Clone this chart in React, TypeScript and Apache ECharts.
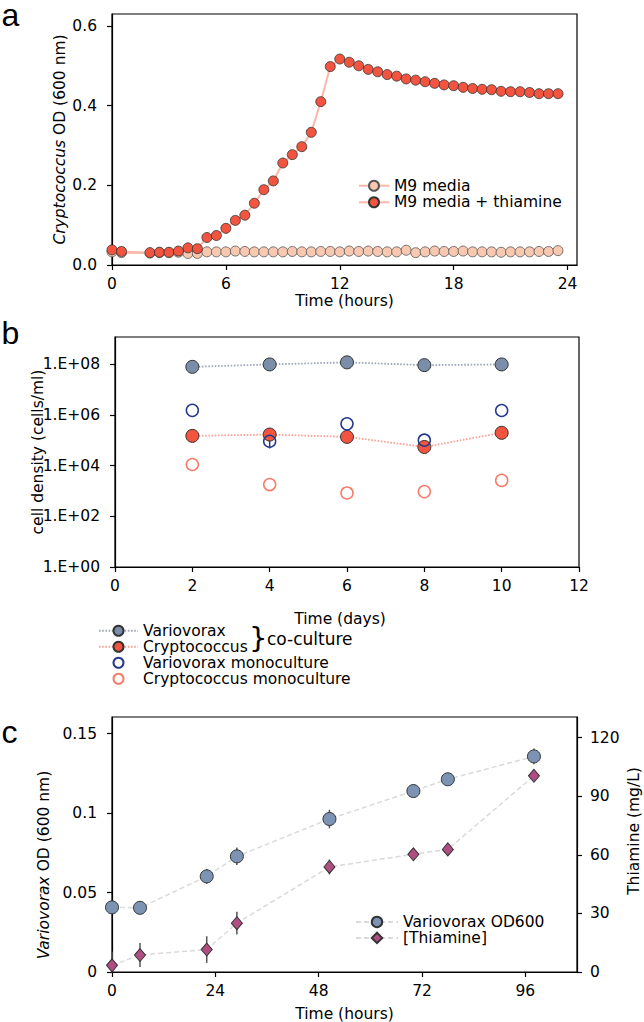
import React, { useEffect, useRef } from "react";
import * as echarts from "echarts";

// ---------- Panel a ----------
const hoursA = [0, 0.5, 2, 2.5, 3, 3.5, 4, 4.5, 5, 5.5, 6, 6.5, 7, 7.5, 8, 8.5, 9, 9.5, 10, 10.5, 11, 11.5,
  12, 12.5, 13, 13.5, 14, 14.5, 15, 15.5, 16, 16.5, 17, 17.5, 18, 18.5, 19, 19.5, 20, 20.5, 21, 21.5, 22, 22.5, 23, 23.5];
const m9Media = [0.033, 0.031, 0.030, 0.031, 0.031, 0.032, 0.029, 0.029, 0.033, 0.033, 0.033, 0.035, 0.034, 0.033,
  0.033, 0.033, 0.033, 0.034, 0.033, 0.033, 0.034, 0.034,
  0.033, 0.035, 0.034, 0.035, 0.034, 0.033, 0.033, 0.037, 0.031, 0.033, 0.035, 0.034, 0.034, 0.035, 0.033, 0.033,
  0.033, 0.032, 0.033, 0.033, 0.033, 0.034, 0.034, 0.036];
const m9Thiamine = [0.038, 0.034, 0.031, 0.032, 0.032, 0.035, 0.043, 0.041, 0.069, 0.074, 0.092, 0.112, 0.125, 0.155,
  0.189, 0.211, 0.256, 0.277, 0.297, 0.333, 0.410, 0.498,
  0.517, 0.509, 0.500, 0.491, 0.485, 0.478, 0.474, 0.467, 0.464, 0.460, 0.456, 0.452, 0.450, 0.446, 0.443, 0.441,
  0.440, 0.436, 0.435, 0.435, 0.433, 0.430, 0.430, 0.430];
const ticksAx = [0, 6, 12, 18, 24];
const ticksAy = [0, 0.2, 0.4, 0.6];

// ---------- Panel b ----------
const daysB = [2, 4, 6, 8, 10];
const varioCo = [7.8e7, 9.7e7, 1.17e8, 9.1e7, 9.7e7];
const cryptoCo = [1.48e5, 1.67e5, 1.35e5, 5.4e4, 1.95e5];
const varioMono = [1.5e6, 9.1e4, 4.4e5, 1.0e5, 1.48e6];
const varioMonoLow = [null, 4.7e4, null, null, null];
const varioMonoHigh = [null, 1.6e5, null, null, null];
const cryptoMono = [1.1e4, 1.78e3, 8.3e2, 9.4e2, 2.6e3];
const ticksBx = [0, 2, 4, 6, 8, 10, 12];
const ticksBy = [1, 1e2, 1e4, 1e6, 1e8];

// ---------- Panel c ----------
const hoursC = [0, 6.5, 22, 29, 50.5, 70, 78, 98];
const varioOD = [0.0407, 0.0404, 0.0602, 0.0728, 0.0963, 0.1139, 0.1213, 0.1357];
const varioODErr = [0.002, 0.002, 0.0047, 0.0055, 0.0058, 0.003, 0.003, 0.005];
const thiamine = [3.4, 8.7, 11.5, 25.0, 53.8, 60.3, 62.8, 100.5];
const thiamineErr = [7, 6.1, 6.8, 5.8, 3.8, 1.5, 1.5, 2];
const ticksCx = [0, 24, 48, 72, 96];
const ticksCy = [0, 0.05, 0.1, 0.15];
const ticksCy2 = [0, 30, 60, 90, 120];

const FONT = "'DejaVu Sans', sans-serif";
const FS = 15.5;
const BLACK = "#000";
const LETTER_FONT = "'Liberation Sans', Arial, sans-serif";

const gridBase = {
  show: true,
  borderColor: BLACK,
  borderWidth: 1.2,
  backgroundColor: "transparent",
  containLabel: false,
  outerBoundsMode: "none",
};

function axis(
  gridIndex: number,
  type: string,
  min: number,
  max: number,
  ticks: number[],
  name: string,
  nameGap: number,
  extra: any = {}
) {
  return {
    gridIndex,
    type,
    min,
    max,
    splitLine: { show: false },
    axisLine: { show: true, onZero: false, lineStyle: { color: BLACK, width: 1.2 } },
    axisTick: { show: true, inside: false, length: 5, customValues: ticks, lineStyle: { color: BLACK, width: 1.2 } },
    axisLabel: {
      customValues: ticks,
      margin: 11,
      color: BLACK,
      fontSize: FS,
      fontFamily: FONT,
      ...(extra.axisLabel || {}),
    },
    name,
    nameLocation: "middle",
    nameGap,
    nameMoveOverlap: false,
    nameTextStyle: {
      color: BLACK,
      fontSize: FS,
      fontFamily: FONT,
      rich: { i: { fontStyle: "italic", fontSize: FS, fontFamily: FONT, color: BLACK } },
      ...(extra.nameTextStyle || {}),
    },
    ...(extra.rest || {}),
  };
}

function errorBars(xIdx: number, yIdx: number, data: any[], color: string) {
  return {
    type: "custom",
    xAxisIndex: xIdx,
    yAxisIndex: yIdx,
    silent: true,
    clip: true,
    z: 1,
    encode: { x: 0, y: [1, 2] },
    data,
    renderItem: (_params: any, api: any) => {
      const p1 = api.coord([api.value(0), api.value(1)]);
      const p2 = api.coord([api.value(0), api.value(2)]);
      return {
        type: "line",
        shape: { x1: p1[0], y1: p1[1], x2: p2[0], y2: p2[1] },
        style: { stroke: color, lineWidth: 1.5 },
      };
    },
  };
}

const legendText = (lh: number) => ({ color: BLACK, fontSize: FS, fontFamily: FONT, lineHeight: lh });

const letter = (t: string, y: number) => ({
  type: "text",
  x: 1.5,
  y,
  style: { text: t, fontSize: 32, lineHeight: 24, fontFamily: LETTER_FONT, fill: BLACK, verticalAlign: "middle" },
});

function buildOption() {
  return {
    animation: false,
    backgroundColor: "#fff",
    grid: [
      { ...gridBase, left: 112, top: 14, width: 465, height: 251 },
      { ...gridBase, left: 115, top: 337, width: 464, height: 230 },
      { ...gridBase, left: 112, top: 717, width: 465, height: 255 },
    ],
    xAxis: [
      axis(0, "value", 0, 24.5, ticksAx, "Time (hours)", 28),
      axis(1, "value", 0, 12, ticksBx, "Time (days)", 44, {
        nameTextStyle: { padding: [0, 14, 0, 0] },
      }),
      axis(2, "value", 0, 108, ticksCx, "Time (hours)", 34),
    ],
    yAxis: [
      axis(0, "value", 0, 0.63, ticksAy, "{i|Cryptococcus} OD (600 nm)", 44, {
        axisLabel: { margin: 15, formatter: (v: number) => v.toFixed(1) },
        rest: { nameRotate: 90 },
      }),
      axis(1, "log", 1, 1.17e9, ticksBy, "cell density (cells/ml)", 69, {
        axisLabel: {
          margin: 15,
          formatter: (v: number) => {
            const e = Math.round(Math.log10(v));
            return "1.E+" + (e < 10 ? "0" + e : String(e));
          },
        },
        rest: { nameRotate: 90, logBase: 10 },
      }),
      axis(2, "value", 0, 0.1605, ticksCy, "", 0, {
        axisLabel: { margin: 15, formatter: (v: number) => String(v) },
      }),
      axis(2, "value", 0, 130.6, ticksCy2, "", 0, {
        axisLabel: { margin: 13 },
        rest: { position: "right" },
      }),
    ],
    legend: [
      {
        data: ["M9 media", "M9 media + thiamine"],
        orient: "vertical",
        left: 358,
        top: 177.4,
        padding: 0,
        itemGap: 0,
        itemWidth: 30,
        itemHeight: 12.5,
        selectedMode: false,
        textStyle: legendText(16.6),
      },
      {
        data: ["Variovorax", "Cryptococcus", "Variovorax monoculture", "Cryptococcus monoculture"],
        orient: "vertical",
        left: 98,
        top: 622.7,
        padding: 0,
        itemGap: 0,
        itemWidth: 39,
        itemHeight: 12.5,
        selectedMode: false,
        textStyle: legendText(16),
      },
      {
        data: ["Variovorax OD600", "[Thiamine]"],
        orient: "vertical",
        left: 355,
        top: 913.9,
        padding: 0,
        itemGap: 0,
        itemWidth: 42,
        itemHeight: 13,
        selectedMode: false,
        textStyle: legendText(15.6),
      },
    ],
    graphic: [
      letter("a", 15),
      letter("b", 333),
      letter("c", 732),
      { type: "text", x: 249, y: 638, style: { text: "}", fontSize: 29, fontFamily: FONT, fill: BLACK, verticalAlign: "middle" } },
      { type: "text", x: 267, y: 638.5, style: { text: "co-culture", fontSize: 17, fontFamily: FONT, fill: BLACK, verticalAlign: "middle" } },
      {
        type: "text",
        x: 43.5,
        y: 865,
        rotation: Math.PI / 2,
        style: {
          text: "{i|Variovorax} OD (600 nm)",
          fontSize: FS,
          fontFamily: FONT,
          fill: BLACK,
          align: "center",
          verticalAlign: "middle",
          rich: { i: { fontStyle: "italic", fontSize: FS, fontFamily: FONT, fill: BLACK } },
        },
      },
      {
        type: "text",
        x: 634,
        y: 831,
        rotation: Math.PI / 2,
        style: { text: "Thiamine (mg/L)", fontSize: FS, fontFamily: FONT, fill: BLACK, align: "center", verticalAlign: "middle" },
      },
    ],
    series: [
      // Panel a
      {
        name: "M9 media",
        type: "line",
        xAxisIndex: 0,
        yAxisIndex: 0,
        data: hoursA.map((t, i) => [t, m9Media[i]]),
        symbol: "circle",
        symbolSize: 10,
        lineStyle: { color: "#f9b8a8", width: 2 },
        itemStyle: { color: "#f9c8b1", borderColor: "#555", borderWidth: 0.8 },
        z: 2,
      },
      {
        name: "M9 media + thiamine",
        type: "line",
        xAxisIndex: 0,
        yAxisIndex: 0,
        data: hoursA.map((t, i) => [t, m9Thiamine[i]]),
        symbol: "circle",
        symbolSize: 10,
        lineStyle: { color: "#f9b8a8", width: 2 },
        itemStyle: { color: "#f2543f", borderColor: "#333", borderWidth: 0.8 },
        z: 3,
      },
      // Panel b
      {
        name: "Variovorax",
        type: "line",
        xAxisIndex: 1,
        yAxisIndex: 1,
        data: daysB.map((d, i) => [d, varioCo[i]]),
        symbol: "circle",
        symbolSize: 13,
        lineStyle: { color: "#9ea7b8", width: 1.8, type: [1.6, 1.6] },
        itemStyle: { color: "#7a8ea9", borderColor: "#333", borderWidth: 1 },
        z: 3,
      },
      {
        name: "Cryptococcus",
        type: "line",
        xAxisIndex: 1,
        yAxisIndex: 1,
        data: daysB.map((d, i) => [d, cryptoCo[i]]),
        symbol: "circle",
        symbolSize: 13,
        lineStyle: { color: "#f9a293", width: 1.8, type: [1.6, 1.6] },
        itemStyle: { color: "#f2543f", borderColor: "#333", borderWidth: 1 },
        z: 3,
      },
      {
        name: "Variovorax monoculture",
        type: "line",
        xAxisIndex: 1,
        yAxisIndex: 1,
        data: daysB.map((d, i) => [d, varioMono[i]]),
        symbol: "circle",
        symbolSize: 12,
        lineStyle: { color: "rgba(0,0,0,0)", width: 0 },
        itemStyle: { color: "rgba(255,255,255,0)", borderColor: "#24398b", borderWidth: 1.5 },
        z: 4,
      },
      {
        name: "Cryptococcus monoculture",
        type: "line",
        xAxisIndex: 1,
        yAxisIndex: 1,
        data: daysB.map((d, i) => [d, cryptoMono[i]]),
        symbol: "circle",
        symbolSize: 12,
        lineStyle: { color: "rgba(0,0,0,0)", width: 0 },
        itemStyle: { color: "rgba(255,255,255,0)", borderColor: "#f97b6a", borderWidth: 1.5 },
        z: 4,
      },
      errorBars(
        1,
        1,
        daysB
          .map((d, i) => [d, varioMonoLow[i], varioMonoHigh[i]])
          .filter((r) => r[1] != null),
        "#24398b"
      ),
      // Panel c
      {
        name: "Variovorax OD600",
        type: "line",
        xAxisIndex: 2,
        yAxisIndex: 2,
        data: hoursC.map((t, i) => [t, varioOD[i]]),
        symbol: "circle",
        symbolSize: 13,
        lineStyle: { color: "#dadada", width: 1.5, type: [5, 3] },
        itemStyle: { color: "#7d93b4", borderColor: "#333", borderWidth: 1 },
        z: 3,
      },
      {
        name: "[Thiamine]",
        type: "line",
        xAxisIndex: 2,
        yAxisIndex: 3,
        data: hoursC.map((t, i) => [t, thiamine[i]]),
        symbol: "diamond",
        symbolSize: [11, 13],
        lineStyle: { color: "#dadada", width: 1.5, type: [5, 3] },
        itemStyle: { color: "#b04e84", borderColor: "#333", borderWidth: 1 },
        z: 3,
      },
      errorBars(2, 2, hoursC.map((t, i) => [t, varioOD[i] - varioODErr[i], varioOD[i] + varioODErr[i]]), "#555"),
      errorBars(2, 3, hoursC.map((t, i) => [t, thiamine[i] - thiamineErr[i], thiamine[i] + thiamineErr[i]]), "#555"),
    ],
  };
}

export default function App() {
  const ref = useRef<HTMLDivElement>(null);
  useEffect(() => {
    if (!ref.current) return;
    const chart = echarts.init(ref.current, null, { renderer: "svg" });
    chart.setOption(buildOption() as any);
    return () => chart.dispose();
  }, []);
  return (
    <div
      ref={ref}
      style={{ position: "absolute", left: 0, top: 0, width: 644, height: 1022, background: "#fff" }}
    />
  );
}
